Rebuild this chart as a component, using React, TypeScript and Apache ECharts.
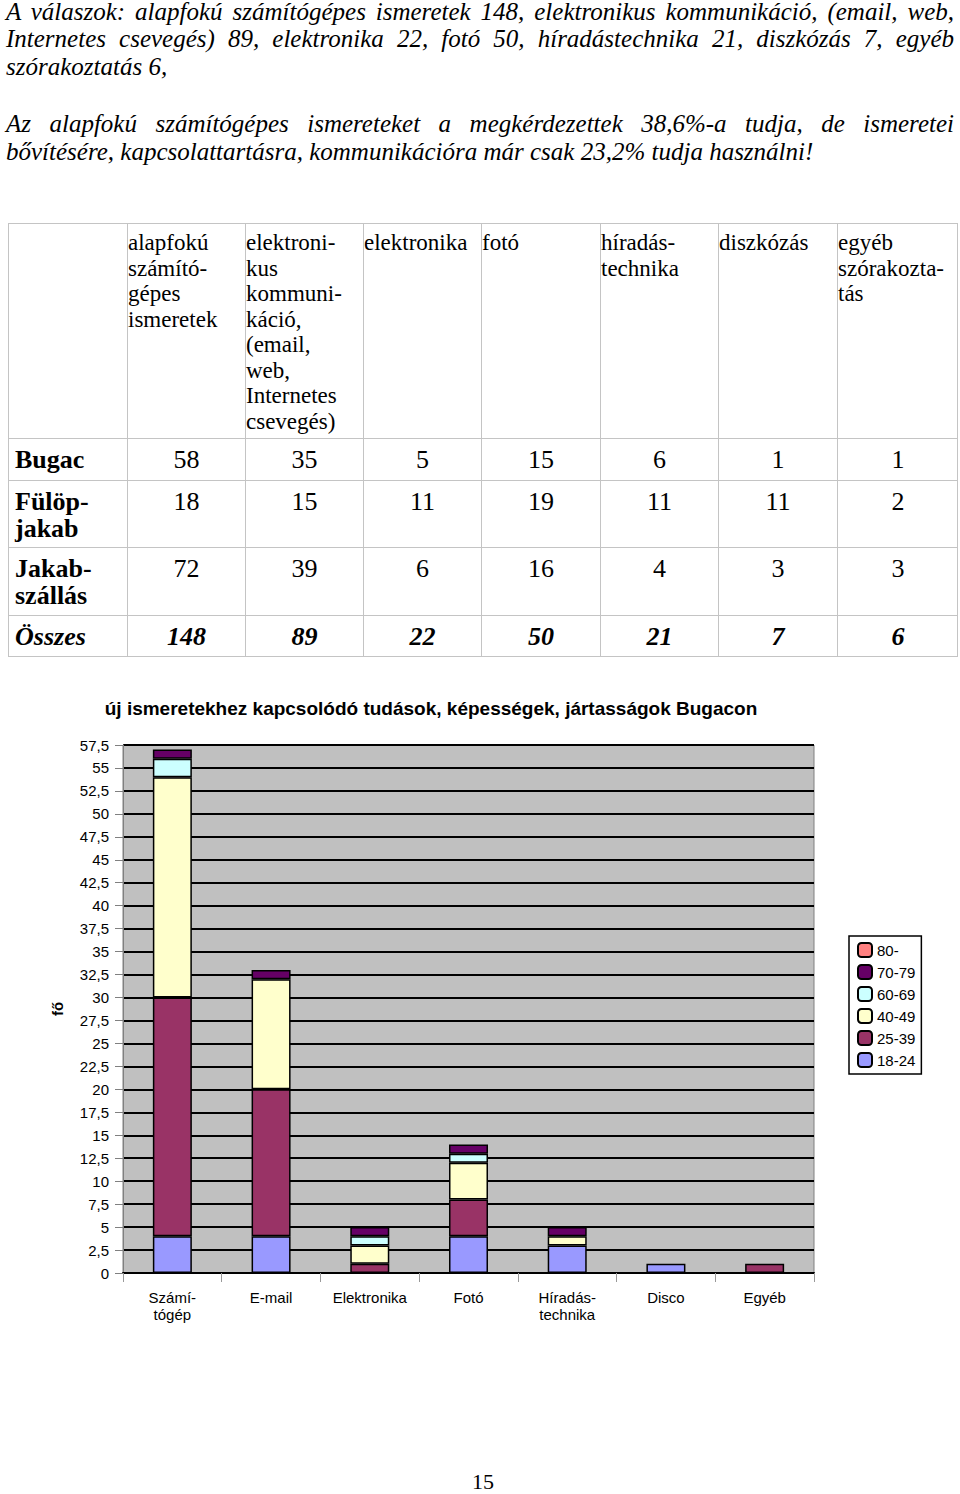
import React, { useEffect, useRef } from "react";
import * as echarts from "echarts";

// ---- chart data (Bugac) ----
const categories = ["Számí-\ntógép", "E-mail", "Elektronika", "Fotó", "Híradás-\ntechnika", "Disco", "Egyéb"];
const ageGroups = ["18-24", "25-39", "40-49", "60-69", "70-79", "80-"];
const age18_24 = [4, 4, 0, 4, 3, 1, 0];
const age25_39 = [26, 16, 1, 4, 0, 0, 1];
const age40_49 = [24, 12, 2, 4, 1, 0, 0];
const age60_69 = [2, 0, 1, 1, 0, 0, 0];
const age70_79 = [1, 1, 1, 1, 1, 0, 0];
const age80 = [0, 0, 0, 0, 0, 0, 0];
const ageColors = ["#9999FF", "#993366", "#FFFFCC", "#CCFFFF", "#660066", "#FF8080"];
const yMax = 57.5;
const yStep = 2.5;

// ---- table data ----
const tableHeaders = [
  "alapfokú\nszámító-\ngépes\nismeretek",
  "elektroni-\nkus\nkommuni-\nkáció,\n(email,\nweb,\nInternetes\ncsevegés)",
  "elektronika",
  "fotó",
  "híradás-\ntechnika",
  "diszkózás",
  "egyéb\nszórakozta-\ntás",
];
const rowLabels = ["Bugac", "Fülöp-\njakab", "Jakab-\nszállás", "Összes"];
const rowBugac = [58, 35, 5, 15, 6, 1, 1];
const rowFulopjakab = [18, 15, 11, 19, 11, 11, 2];
const rowJakabszallas = [72, 39, 6, 16, 4, 3, 3];
const rowOsszes = [148, 89, 22, 50, 21, 7, 6];

const textLines = [
  { t: "A válaszok: alapfokú számítógépes ismeretek 148, elektronikus kommunikáció, (email, web,", j: true, y: 12 },
  { t: "Internetes csevegés) 89, elektronika 22, fotó 50,  híradástechnika 21, diszkózás 7, egyéb", j: true, y: 39 },
  { t: "szórakoztatás 6,", j: false, y: 67 },
  { t: "Az alapfokú számítógépes ismereteket a megkérdezettek 38,6%-a tudja, de ismeretei", j: true, y: 124 },
  { t: "bővítésére, kapcsolattartásra, kommunikációra már csak 23,2% tudja használni!", j: false, y: 152 },
];

const colEdges = [8, 127, 245, 363, 481, 600, 718, 837, 958];
const rowEdges = [223, 438, 480, 547, 615, 657];

const serif = '"Liberation Serif", "Times New Roman", serif';
const sans = '"Liberation Sans", Arial, sans-serif';

function Table() {
  const cells: React.ReactNode[] = [];
  const rows = [rowBugac, rowFulopjakab, rowJakabszallas, rowOsszes];
  const border = "1.5px solid #c4c4c4";
  for (let c = 0; c < 8; c++) {
    const x0 = colEdges[c], x1 = colEdges[c + 1];
    cells.push(
      <div key={"h" + c} style={{
        position: "absolute", left: x0, top: rowEdges[0], width: x1 - x0, height: rowEdges[1] - rowEdges[0],
        borderLeft: border, borderTop: border, boxSizing: "border-box",
        fontFamily: serif, fontSize: 23, lineHeight: "25.5px", whiteSpace: "pre", paddingLeft: 0, paddingTop: 6,
      }}>{c === 0 ? "" : tableHeaders[c - 1]}</div>
    );
  }
  for (let r = 0; r < 4; r++) {
    const y0 = rowEdges[r + 1], y1 = rowEdges[r + 2];
    const isTotal = r === 3;
    for (let c = 0; c < 8; c++) {
      const x0 = colEdges[c], x1 = colEdges[c + 1];
      const isLabel = c === 0;
      cells.push(
        <div key={"r" + r + "c" + c} style={{
          position: "absolute", left: x0, top: y0, width: x1 - x0, height: y1 - y0,
          borderLeft: border, borderTop: border, boxSizing: "border-box",
          fontFamily: serif, fontSize: isTotal ? 26 : 26, lineHeight: "26.5px", whiteSpace: "pre",
          fontWeight: isLabel || isTotal ? "bold" : "normal",
          fontStyle: isTotal ? "italic" : "normal",
          textAlign: isLabel ? "left" : "center",
          paddingLeft: isLabel ? 6 : 0, paddingTop: 8,
        }}>{isLabel ? rowLabels[r] : String(rows[r][c - 1])}</div>
      );
    }
  }
  cells.push(<div key="rb" style={{ position: "absolute", left: colEdges[8] - 1.5, top: rowEdges[0], width: 0, height: rowEdges[5] - rowEdges[0], borderLeft: border }} />);
  cells.push(<div key="bb" style={{ position: "absolute", left: colEdges[0], top: rowEdges[5] - 1.5, width: colEdges[8] - colEdges[0], height: 0, borderTop: border }} />);
  return <>{cells}</>;
}

export default function App() {
  const ref = useRef<HTMLDivElement>(null);
  useEffect(() => {
    if (!ref.current) return;
    const chart = echarts.init(ref.current, null, { renderer: "svg" });
    const seriesData = [age18_24, age25_39, age40_49, age60_69, age70_79, age80];
    chart.setOption({
      animation: false,
      textStyle: { fontFamily: sans },
      graphic: [
        {
          type: "text", x: 431, y: 28,
          style: {
            text: "új ismeretekhez kapcsolódó tudások, képességek, jártasságok Bugacon",
            fontFamily: sans, fontSize: 19, fontWeight: "bold", fill: "#000",
            textAlign: "center", textVerticalAlign: "middle",
          },
        },
      ],
      grid: {
        left: 123, top: 65, width: 691, height: 528, show: true,
        backgroundColor: "#C0C0C0", borderColor: "#808080", borderWidth: 1,
      },
      legend: {
        orient: "vertical", left: 849, top: 256,
        data: [...ageGroups].reverse(),
        itemWidth: 14, itemHeight: 14, itemGap: 6,
        padding: [6, 6, 6, 8],
        borderColor: "#000", borderWidth: 1.5, backgroundColor: "#fff",
        textStyle: { fontSize: 15, color: "#000", fontFamily: sans },
        selectedMode: false,
      },
      xAxis: {
        type: "category", data: categories,
        axisLine: { show: true, lineStyle: { color: "#000", width: 2 } },
        axisTick: { show: true, length: 9, lineStyle: { color: "#999", width: 1 } },
        axisLabel: { fontSize: 15, color: "#000", margin: 16, lineHeight: 17, interval: 0, fontFamily: sans },
      },
      yAxis: {
        type: "value", min: 0, max: yMax, interval: yStep,
        name: "fő", nameLocation: "middle", nameRotate: 90, nameGap: 58,
        nameTextStyle: { fontSize: 15, fontWeight: "bold", color: "#000", fontFamily: sans },
        axisLine: { show: true, lineStyle: { color: "#808080", width: 1 } },
        axisTick: { show: true, length: 8, lineStyle: { color: "#808080", width: 1 } },
        axisLabel: {
          fontSize: 15, color: "#000", margin: 14, fontFamily: sans,
          formatter: (v: number) => String(v).replace(".", ","),
        },
        splitLine: { show: true, lineStyle: { color: "#000", width: 2 } },
      },
      series: ageGroups.map((g, i) => ({
        name: g, type: "bar", stack: "total", barWidth: 39,
        itemStyle: { color: ageColors[i], borderColor: "#000", borderWidth: 1.5 },
        data: seriesData[i].map((v) => (v === 0 ? "-" : v)),
      })),
    });
    return () => chart.dispose();
  }, []);

  return (
    <div style={{ position: "absolute", left: 0, top: 0, width: 960, height: 1494, background: "#fff", color: "#000" }}>
      {textLines.map((l, i) => (
        <div key={i} style={{
          position: "absolute", left: 6, top: l.y - 14, width: 948, height: 28,
          fontFamily: serif, fontStyle: "italic", fontSize: 25, lineHeight: "28px", whiteSpace: "nowrap",
          textAlign: l.j ? "justify" : "left", textAlignLast: l.j ? "justify" : "left",
        } as React.CSSProperties}>{l.t}</div>
      ))}
      <Table />
      <div ref={ref} style={{ position: "absolute", left: 0, top: 680, width: 960, height: 680 }} />
      <div style={{ position: "absolute", left: 0, width: 960, top: 1469, textAlign: "center", fontFamily: serif, fontSize: 22, lineHeight: "26px", paddingLeft: 6, boxSizing: "border-box" }}>15</div>
    </div>
  );
}
